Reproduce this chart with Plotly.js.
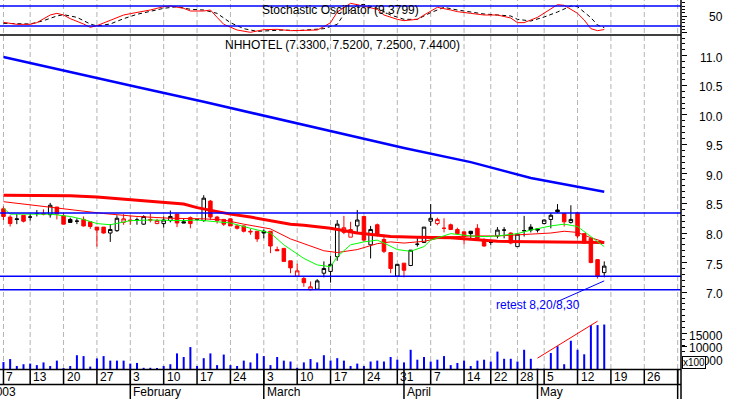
<!DOCTYPE html>
<html><head><meta charset="utf-8">
<script src="https://cdn.plot.ly/plotly-3.0.1.min.js"></script>
<style>html,body{margin:0;padding:0;background:#fff}#chart{width:730px;height:399px}</style>
</head><body><div id="chart"></div>
<script>
// ---------- calendar ----------
const firstDay = '2003-01-07', lastDay = '2003-06-02';
const holidays = ['2003-04-18','2003-04-21','2003-05-01'];
function tradingDays(a, b){
  const out = []; const d = new Date(a + 'T12:00:00Z'); const e = new Date(b + 'T12:00:00Z');
  while (d <= e){ const s = d.toISOString().slice(0,10); const w = d.getUTCDay();
    if (w !== 0 && w !== 6 && holidays.indexOf(s) < 0) out.push(s); d.setUTCDate(d.getUTCDate()+1); }
  return out;
}
const days = tradingDays(firstDay, lastDay);
const pos = s => days.indexOf('2003-' + s);

// ---------- daily prices (Jan 7 .. May 16, 2003) ----------
const open  = [8.41,8.27,8.24,8.30,8.27,8.33,8.33,8.31,8.44,8.29, 8.23,8.20,8.23,8.19,8.10,8.10,8.00,8.04,8.18,8.22,
               8.22,8.15,8.23,8.16,8.16,8.21,8.32,8.19,8.26,8.23, 8.21,8.54,8.27,8.23,8.24,8.12,8.12,8.03,8.03,8.03,
               8.03,7.72,7.74,7.53,7.27,7.23,7.04,7.05,7.32,7.35, 7.60,8.01,7.93,8.12,8.28,7.80,8.14,7.89,7.67,7.27,
               7.49,7.45,7.81,7.84,8.20,8.16,8.08,8.14,8.06,8.02, 8.03,8.08,7.89,7.84,7.95,8.05,8.00,7.77,8.04,8.10,
               8.07,8.16,8.23,8.39,8.33,8.18,8.34,7.99,7.91,7.55, 7.33];
const high  = [8.45,8.30,8.32,8.30,8.32,8.39,8.40,8.51,8.44,8.34, 8.26,8.25,8.28,8.19,8.10,8.10,8.15,8.30,8.32,8.29,
               8.26,8.30,8.33,8.24,8.28,8.38,8.32,8.24,8.28,8.24, 8.64,8.56,8.29,8.23,8.25,8.14,8.13,8.07,8.03,8.06,
               8.03,7.77,7.74,7.53,7.48,7.26,7.18,7.22,7.52,7.61, 8.22,8.29,8.19,8.39,8.28,8.12,8.16,7.97,7.67,7.47,
               7.49,7.71,7.94,8.10,8.49,8.26,8.25,8.16,8.09,8.02, 8.03,8.15,7.91,7.84,8.10,8.10,8.01,7.99,8.29,8.15,
               8.08,8.23,8.34,8.49,8.33,8.47,8.36,7.99,7.91,7.55, 7.52];
const low   = [8.22,8.11,8.15,8.18,8.21,8.28,8.30,8.26,8.23,8.15, 8.17,8.15,8.11,8.07,7.77,7.99,7.85,8.02,8.14,8.14,
               8.14,8.14,8.18,8.15,8.09,8.18,8.10,8.17,8.08,8.21, 8.19,8.23,8.16,8.12,8.12,8.06,8.01,7.97,7.85,7.91,
               7.66,7.70,7.52,7.32,7.27,7.09,7.03,7.04,7.25,7.16, 7.53,7.98,7.93,8.00,7.85,7.57,7.94,7.66,7.32,7.27,
               7.25,7.44,7.77,7.84,8.12,8.13,8.01,8.05,7.97,7.81, 7.88,7.91,7.77,7.80,7.91,7.91,7.81,7.77,7.94,8.01,
               8.01,8.15,8.08,8.34,8.11,8.16,7.91,7.83,7.49,7.23, 7.25];
const close = [8.28,8.16,8.23,8.20,8.27,8.33,8.32,8.47,8.32,8.15, 8.18,8.20,8.12,8.11,8.05,8.00,8.06,8.25,8.24,8.21,
               8.22,8.28,8.22,8.21,8.22,8.28,8.17,8.17,8.16,8.23, 8.59,8.27,8.21,8.15,8.12,8.08,8.03,8.02,7.90,8.00,
               7.78,7.70,7.52,7.41,7.36,7.16,7.09,7.19,7.40,7.47, 8.15,8.09,8.06,8.22,7.88,8.06,7.97,7.69,7.40,7.47,
               7.37,7.71,7.81,8.10,8.25,8.23,8.08,8.06,7.99,7.94, 7.99,7.91,7.78,7.84,8.05,8.05,7.83,7.98,8.04,8.05,
               8.05,8.22,8.30,8.36,8.19,8.23,7.95,7.83,7.50,7.27, 7.44];
// volume in units of 100 shares
const volume = [3820,5000,2250,2960,3210,2610,3680,2250,4390,1430, 2250,6530,6180,2030,5250,6180,4390,4390,4390,3210,
                3460,1540,1540,1430,2250,2960,7250,5820,9750,2250, 5360,7250,2610,6780,2610,2250,4390,3680,7250,6180,
                2610,5820,4390,4030,1540,3680,5000,3680,6530,4390, 5360,4390,2250,3210,2250,4030,4390,4030,5820,4750,
                3680,8680,4750,5820,4030,4750,6180,2610,3460,4390, 2250,4390,4750,4030,7960,5110,5110,4030,8680,5110,
                1200,1200,7390,10100,2960,12250,8680,6890,18450,18450, 18670];

// ---------- moving averages (read at sample dates) ----------
const maLongDates = ['01-07','01-21','02-04','02-18','03-04','03-18','04-01','04-15','04-30','05-16'];
const maLongVals  = [10.98,10.72,10.47,10.22,9.96,9.70,9.44,9.20,8.93,8.70];
const maMidDates = ['01-07','01-21','01-27','01-30','02-03','02-07','02-13','02-17','02-20','02-24','02-27','03-04','03-07','03-11','03-17','03-21','03-28','04-03','04-10','04-23','05-06','05-16'];
const maMidVals  = [8.64,8.63,8.61,8.58,8.56,8.53,8.49,8.43,8.36,8.32,8.27,8.21,8.15,8.13,8.08,8.00,7.94,7.93,7.92,7.86,7.85,7.84];
const maThinDates = ['01-07','01-14','01-21','01-28','02-04','02-11','02-18','02-21','02-26','03-04','03-07','03-11','03-14','03-18','03-21','03-26','03-28','04-01','04-04','04-09','04-15','04-23','04-29','05-06','05-08','05-12','05-14','05-16'];
const maThinVals  = [8.53,8.46,8.40,8.33,8.28,8.25,8.24,8.22,8.15,8.07,7.90,7.82,7.70,7.67,7.72,7.82,7.85,7.83,7.86,7.93,7.95,7.95,7.97,8.00,8.03,8.01,7.92,7.85];
const maShortDates = ['01-07','01-08','01-16','01-21','01-23','01-27','01-29','01-30','02-03','02-06','02-13','02-17','02-24','02-27','03-04','03-06','03-11','03-13','03-17','03-18','03-20','03-24','03-26','03-27','03-31','04-02','04-04','04-07','04-10','04-15','04-17','04-23','04-28','04-30','05-06','05-08','05-12','05-14','05-16'];
const maShortVals  = [8.42,8.32,8.32,8.28,8.23,8.16,8.14,8.16,8.21,8.22,8.21,8.22,8.17,8.08,8.00,7.80,7.57,7.46,7.43,7.60,7.80,7.85,7.88,7.83,7.72,7.69,7.77,7.88,7.99,7.95,7.94,7.95,7.99,8.05,8.12,8.15,8.11,7.94,7.77];

// ---------- stochastic oscillator ----------
const stochKDates = ['01-07','01-08','01-09','01-13','01-14','01-16','01-17','01-20','01-21','01-23','01-24','01-27','01-29','01-31','02-03','02-06','02-10','02-11','02-13','02-14','02-18','02-19','02-20','02-21','02-25','02-27','03-03','03-05','03-07','03-10','03-13','03-14','03-17','03-18','03-20','03-21','03-24','03-26','03-27','03-31','04-01','04-03','04-04','04-08','04-10','04-11','04-15','04-17','04-23','04-25','04-28','04-29','05-02','05-05','05-07','05-08','05-12','05-13','05-14','05-15','05-16'];
const stochKVals  = [31,28,25,25,30,53,58,53,42,26,16,21,36,53,57,68,78,80,73,65,65,68,46,25,8,1,9,10,6,6,8,18,30,62,88,84,79,70,53,40,36,40,53,76,68,63,58,53,53,44,30,30,46,58,84,82,58,38,12,6,9.3799];
const stochDDates = ['01-07','01-09','01-13','01-15','01-17','01-20','01-22','01-24','01-27','01-29','01-31','02-04','02-06','02-10','02-12','02-14','02-18','02-20','02-24','02-26','02-28','03-04','03-06','03-10','03-12','03-14','03-18','03-19','03-21','03-24','03-26','03-28','04-01','04-03','04-07','04-09','04-11','04-15','04-17','04-23','04-25','04-28','04-30','05-05','05-07','05-09','05-12','05-14','05-15','05-16'];
const stochDVals  = [28,27,26,36,50,54,46,26,20,26,42,55,63,73,78,70,68,58,30,12,4,6,8,6,8,12,25,55,82,85,73,53,40,40,60,76,68,62,56,53,50,40,35,47,62,80,78,45,23,15];

// ---------- reference lines, ticks, labels ----------
const priceLevels = [8.34, 7.27, 7.04];
const stochLevels = [80, 20];
const weekTicks  = ['01-07','01-13','01-20','01-27','02-03','02-10','02-17','02-24','03-03','03-10','03-17','03-24','03-31','04-07','04-14','04-22','04-28','05-05','05-12','05-19','05-26','06-02'];
const weekLabels = ['7','13','20','27','3','10','17','24','3','10','17','24','31','7','14','22','28','5','12','19','26',''];
const monthStarts = ['02-03','03-03','04-01','05-02','06-02'];
const monthNames  = ['February','March','April','May',''];
const priceTicks = [7.0,7.5,8.0,8.5,9.0,9.5,10.0,10.5,11.0];
const volTicks = [5000,10000,15000];
const trendVol = {dates:['05-02','05-15'], vals:[5360,20000]};
const trendPrice = {dates:['05-07','05-16'], vals:[6.84,7.19]};

// ---------- geometry ----------
const PLOT_W = 681, PLOT_H = 369;
const pyPx = px => 1 - px/PLOT_H;           // pixel row -> paper y
const pxX = px => px/PLOT_W;
const FONT = 'Liberation Sans, Arial, sans-serif';

const candleX = days.slice(0, open.length).map((d,i)=>i);
const groups = {rf:[], rh:[], bh:[], bf:[]};
for (let i=0;i<open.length;i++){
  const prev = i>0 ? close[i-1] : open[i];
  const red = close[i] < prev; const hollow = close[i] > open[i];
  const k = (red?'r':'b') + (hollow?'h':'f');
  groups[k].push(i);
}
const styles = {rf:['#ff0000','#ff0000'], rh:['#ff0000','#ffffff'], bh:['#000000','#ffffff'], bf:['#000000','#000000']};
const traces = [];
// volume
traces.push({type:'bar', x:candleX, y:volume, xaxis:'x', yaxis:'y3', width:0.3,
  marker:{color:'#0000ff', line:{width:0}}, hoverinfo:'skip'});
for (const k of ['rf','rh','bh','bf']){
  const ids = groups[k]; if(!ids.length) continue;
  const [lc, fc] = styles[k];
  const st = {line:{color:lc, width:1}, fillcolor:fc};
  traces.push({type:'candlestick', x:ids, open:ids.map(i=>open[i]), high:ids.map(i=>high[i]),
    low:ids.map(i=>low[i]), close:ids.map(i=>close[i]), xaxis:'x', yaxis:'y',
    increasing:st, decreasing:st, whiskerwidth:0, hoverinfo:'skip'});
}
function line(dates, vals, color, width, yaxis, dash){
  return {type:'scatter', mode:'lines', x:dates.map(pos), y:vals, xaxis:'x', yaxis:yaxis,
    line:{color:color, width:width, dash:dash||'solid'}, hoverinfo:'skip'};
}
traces.push(line(maLongDates, maLongVals, '#0000ff', 2.5, 'y'));
traces.push(line(maMidDates, maMidVals, '#ff0000', 3, 'y'));
traces.push(line(maThinDates, maThinVals, '#ff0000', 1, 'y'));
traces.push(line(maShortDates, maShortVals, '#00ff00', 1, 'y'));
traces.push(line(stochDDates, stochDVals, '#000000', 1, 'y2', '4px,3px'));
traces.push(line(stochKDates, stochKVals, '#ff0000', 1, 'y2'));

const shapes = [];
// dashed vertical grid
weekTicks.forEach(t=>shapes.push({type:'line', xref:'x', yref:'paper', x0:pos(t), x1:pos(t), y0:0, y1:1,
  line:{color:'#b4b4b4', width:1, dash:'5px,3px'}, layer:'below'}));
// horizontal levels
priceLevels.forEach(v=>shapes.push({type:'line', xref:'paper', yref:'y', x0:0, x1:1, y0:v, y1:v, line:{color:'#0000ff', width:1.5}}));
stochLevels.forEach(v=>shapes.push({type:'line', xref:'paper', yref:'y2', x0:0, x1:1, y0:v, y1:v, line:{color:'#0000ff', width:1.5}}));
// frame lines
shapes.push({type:'line', xref:'paper', yref:'paper', x0:0, x1:1, y0:pyPx(35), y1:pyPx(35), line:{color:'#000', width:1.5}});
shapes.push({type:'line', xref:'paper', yref:'paper', x0:0, x1:1, y0:pyPx(369.5), y1:pyPx(369.5), line:{color:'#000', width:1.5}});
shapes.push({type:'line', xref:'paper', yref:'paper', x0:0, x1:1, y0:pyPx(384.5), y1:pyPx(384.5), line:{color:'#000', width:1.5}});
shapes.push({type:'line', xref:'paper', yref:'paper', x0:1, x1:1, y0:pyPx(399), y1:1, line:{color:'#000', width:1.5}});
weekTicks.forEach(t=>shapes.push({type:'line', xref:'x', yref:'paper', x0:pos(t), x1:pos(t), y0:pyPx(369), y1:pyPx(384),
  line:{color:'#000', width:1.5}}));
monthStarts.forEach(t=>shapes.push({type:'line', xref:'x', yref:'paper', x0:pos(t), x1:pos(t), y0:pyPx(369), y1:pyPx(399),
  line:{color:'#000', width:1.5}}));
// drawn trend lines
shapes.push({type:'line', xref:'x', yref:'y3', x0:pos(trendVol.dates[0]), x1:pos(trendVol.dates[1]), y0:trendVol.vals[0], y1:trendVol.vals[1], line:{color:'#ff0000', width:1}});
shapes.push({type:'line', xref:'x', yref:'y', x0:pos(trendPrice.dates[0]), x1:pos(trendPrice.dates[1]), y0:trendPrice.vals[0], y1:trendPrice.vals[1], line:{color:'#0000ff', width:1}});

const ann = [];
const f12 = {family:FONT, size:12, color:'#000'};
weekTicks.forEach((t,i)=>{ if(weekLabels[i]) ann.push({xref:'x', yref:'paper', x:pos(t), y:pyPx(377), xanchor:'left', yanchor:'middle',
  xshift:1, text:weekLabels[i], showarrow:false, font:f12}); });
monthStarts.forEach((t,i)=>{ if(monthNames[i]) ann.push({xref:'x', yref:'paper', x:pos(t), y:pyPx(392), xanchor:'left', yanchor:'middle',
  xshift:1, text:monthNames[i], showarrow:false, font:f12}); });
ann.push({xref:'paper', yref:'paper', x:pxX(18), y:pyPx(392), xanchor:'right', yanchor:'middle', text:'2003', showarrow:false, font:f12});
priceTicks.forEach(v=>ann.push({xref:'paper', yref:'y', x:pxX(725), y:v, xanchor:'right', yanchor:'middle', yshift:-2,
  text:v.toFixed(1), showarrow:false, font:f12}));
ann.push({xref:'paper', yref:'y2', x:pxX(725), y:50, xanchor:'right', yanchor:'middle', yshift:-1, text:'50', showarrow:false, font:f12});
volTicks.forEach(v=>ann.push({xref:'paper', yref:'y3', x:pxX(725), y:v, xanchor:'right', yanchor:'middle', yshift:-2,
  text:String(v), showarrow:false, font:f12}));
ann.push({xref:'paper', yref:'paper', x:pxX(694), y:pyPx(362), xanchor:'center', yanchor:'middle', text:'x100', showarrow:false,
  font:{family:FONT, size:10, color:'#000'}, bgcolor:'#fff', bordercolor:'#000', borderwidth:1, borderpad:0});
ann.push({xref:'paper', yref:'paper', x:pxX(340), y:pyPx(10), xanchor:'center', yanchor:'middle',
  text:'Stochastic Oscillator (' + stochKVals[stochKVals.length-1].toFixed(4) + ')', showarrow:false, font:f12});
const last = open.length-1;
ann.push({xref:'paper', yref:'paper', x:pxX(342), y:pyPx(45), xanchor:'center', yanchor:'middle',
  text:'NHHOTEL (' + [open[last],high[last],low[last],close[last]].map(v=>v.toFixed(4)).join(', ') + ')', showarrow:false, font:f12});
ann.push({xref:'x', yref:'paper', x:pos('05-05'), y:pyPx(305), xanchor:'center', yanchor:'middle', xshift:-6,
  text:'retest 8,20/8,30', showarrow:false, font:{family:FONT, size:12, color:'#0000ff'}});

const axBase = {showgrid:false, zeroline:false, showticklabels:false, fixedrange:true, showline:false};
const layout = {
  width:730, height:399, margin:{l:0, r:49, t:0, b:30}, paper_bgcolor:'#fff', plot_bgcolor:'#fff',
  showlegend:false, font:{family:FONT, size:12, color:'#000'}, boxgap:0.25,
  xaxis:Object.assign({}, axBase, {range:[-0.52, 101.5], rangeslider:{visible:false}, ticks:''}),
  yaxis:Object.assign({}, axBase, {domain:[0, pyPx(36)], range:[5.699, 11.334], side:'right',
     tickvals:priceTicks, ticks:'outside', ticklen:5, tickcolor:'#000', tickwidth:1,
     minor:{ticks:'outside', ticklen:3, dtick:0.1, tickcolor:'#000'}}),
  yaxis2:Object.assign({}, axBase, {domain:[pyPx(35), 1], range:[-7, 98], side:'right',
     tickvals:[0,50,100], ticks:'outside', ticklen:5, tickcolor:'#000',
     minor:{ticks:'outside', ticklen:3, dtick:10, tickcolor:'#000'}}),
  yaxis3:Object.assign({}, axBase, {overlaying:'y', domain:[0,1], range:[1071, 132857], side:'right',
     tickvals:volTicks, ticks:'outside', ticklen:5, tickcolor:'#000'}),
  shapes:shapes, annotations:ann
};
Plotly.newPlot('chart', traces, layout, {staticPlot:true, displayModeBar:false});
</script></body></html>
